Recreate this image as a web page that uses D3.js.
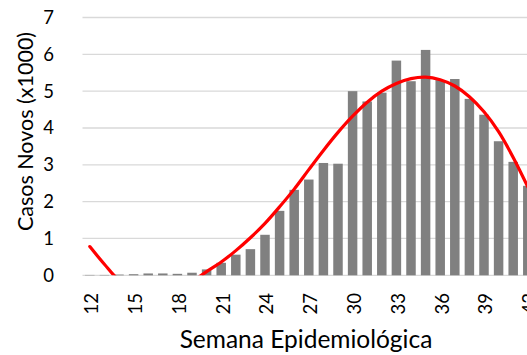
<!DOCTYPE html>
<html>
<head>
<meta charset="utf-8">
<script src="https://cdn.jsdelivr.net/npm/d3@7"></script>
<style>
  html, body { margin: 0; padding: 0; background: #fff; overflow: hidden; }
  svg { display: block; font-family: Lato, "Open Sans", sans-serif; }
</style>
</head>
<body>
<svg id="chart" width="527" height="355"></svg>
<script>
// Epidemiological weeks shown on the horizontal axis
const weeks = d3.range(12, 43);

// New cases per week, in thousands
const cases = [0.01, 0.01, 0.02, 0.03, 0.05, 0.05, 0.04, 0.07, 0.16, 0.34,
               0.56, 0.71, 1.10, 1.75, 2.32, 2.60, 3.05, 3.03, 5.00, 4.72,
               4.96, 5.83, 5.27, 6.12, 5.30, 5.33, 4.79, 4.36, 3.64, 3.08,
               2.43];

// Polynomial trend line, one value per week (thousands)
const trend = [0.78, 0.30, -0.13, -0.32, -0.42, -0.43, -0.35, -0.17, 0.10, 0.36,
               0.67, 1.02, 1.41, 1.86, 2.34, 2.87, 3.39, 3.88, 4.32, 4.70,
               5.00, 5.21, 5.34, 5.38, 5.31, 5.14, 4.85, 4.44, 3.90, 3.20,
               2.40];

// Axis labels
const yTicks = [0, 1, 2, 3, 4, 5, 6, 7];
const xTickWeeks = [12, 15, 18, 21, 24, 27, 30, 33, 36, 39, 42];
const xTitle = "Semana Epidemiológica";
const yTitle = "Casos Novos (x1000)";

const svg = d3.select("#chart");
const W = 527, H = 355;

const plotLeft = 82.5, step = 14.6;
const plotTop = 17.5, plotBottom = 275.3;

const x = d3.scaleBand()
  .domain(weeks)
  .range([plotLeft, plotLeft + weeks.length * step])
  .paddingInner(0.35)
  .paddingOuter(0.175);

const y = d3.scaleLinear().domain([0, 7]).range([plotBottom, plotTop]);

// clip region for the plot area
svg.append("defs").append("clipPath").attr("id", "plot")
  .append("rect")
  .attr("x", plotLeft).attr("y", plotTop)
  .attr("width", W - plotLeft).attr("height", plotBottom - plotTop);

// horizontal gridlines
svg.append("g")
  .selectAll("line")
  .data(yTicks)
  .join("line")
  .attr("x1", plotLeft).attr("x2", W)
  .attr("y1", d => y(d)).attr("y2", d => y(d))
  .attr("stroke", "#d9d9d9")
  .attr("stroke-width", 1.3);

// y tick labels
svg.append("g")
  .selectAll("text")
  .data(yTicks)
  .join("text")
  .attr("x", 54)
  .attr("y", d => y(d))
  .attr("dy", "0.35em")
  .attr("text-anchor", "end")
  .attr("font-size", 18.5)
  .attr("fill", "#000")
  .text(d => d);

// bars
svg.append("g")
  .selectAll("rect")
  .data(weeks.map((w, i) => ({ w, v: cases[i] })))
  .join("rect")
  .attr("x", d => x(d.w))
  .attr("width", x.bandwidth())
  .attr("y", d => y(d.v))
  .attr("height", d => y(0) - y(d.v))
  .attr("fill", "#808080");

// trend line
const line = d3.line()
  .x((d, i) => x(weeks[i]) + x.bandwidth() / 2)
  .y(d => y(d))
  .curve(d3.curveCatmullRom.alpha(0.5));

svg.append("path")
  .attr("clip-path", "url(#plot)")
  .attr("d", line(trend))
  .attr("fill", "none")
  .attr("stroke", "#ff0000")
  .attr("stroke-width", 3.2)
  .attr("stroke-linecap", "round");

// x tick labels, rotated
svg.append("g")
  .selectAll("text")
  .data(xTickWeeks)
  .join("text")
  .attr("transform", d => `translate(${x(d) + x.bandwidth() / 2 + 2},293) rotate(-90)`)
  .attr("dy", "0.35em")
  .attr("text-anchor", "end")
  .attr("font-size", 18.5)
  .attr("fill", "#000")
  .text(d => d);

// axis titles
svg.append("text")
  .attr("x", 306)
  .attr("y", 347.5)
  .attr("text-anchor", "middle")
  .attr("font-size", 24.5)
  .attr("fill", "#000")
  .text(xTitle);

svg.append("text")
  .attr("transform", "translate(33,131.5) rotate(-90)")
  .attr("text-anchor", "middle")
  .attr("font-size", 21.5)
  .attr("fill", "#000")
  .text(yTitle);
</script>
</body>
</html>
